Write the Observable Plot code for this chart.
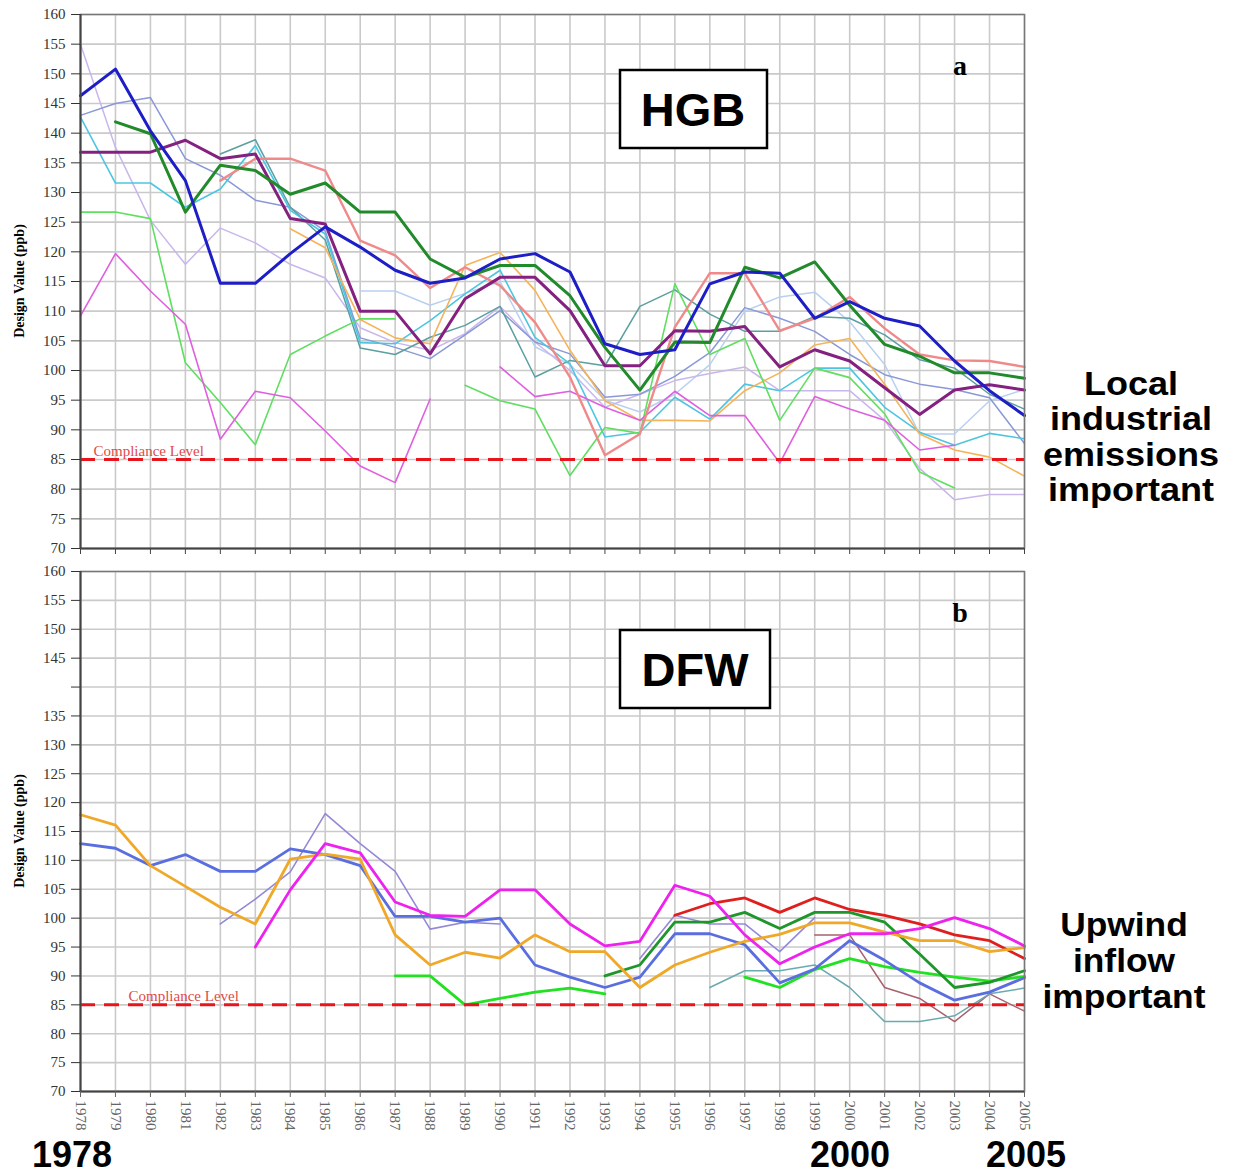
<!DOCTYPE html>
<html><head><meta charset="utf-8">
<script src="https://cdn.jsdelivr.net/npm/d3@7"></script>
<script src="https://cdn.jsdelivr.net/npm/@observablehq/plot@0.6"></script>
<style>
html,body{margin:0;padding:0;background:#fff;}
#wrap{position:relative;width:1235px;height:1176px;overflow:hidden;background:#fff;}
#top,#bottom,#overlay{position:absolute;left:0;}
#top{top:0;} #bottom{top:560px;} #overlay{top:0;pointer-events:none;}
</style></head><body>
<div id="wrap"><div id="top"></div><div id="bottom"></div><svg id="overlay" width="1235" height="1176"></svg></div>
<script>
// ---------- data ----------
const years = [1978,1979,1980,1981,1982,1983,1984,1985,1986,1987,1988,1989,1990,1991,1992,1993,1994,1995,1996,1997,1998,1999,2000,2001,2002,2003,2004,2005];
const yTicks = [70,75,80,85,90,95,100,105,110,115,120,125,130,135,140,145,150,155,160];
const complianceLevel = 85;
const complianceLabel = "Compliance Level";

// HGB (panel a)
const hgbLightBlue  = [null,null,null,null,null,null,null,null,113.4,113.4,111,113,115,104,101,95,93,96,101,110,112.4,113.2,108.2,101,89.3,89.3,94.9,96.8];
const hgbLavender   = [155,137.6,125.3,117.9,124,121.5,117.9,115.6,107.2,104.7,103.4,106.2,110.8,104.8,100,93.8,96,98.3,99.5,100.6,96.6,96.6,96.6,91.6,83.5,78.2,79.1,79.1];
const hgbSlate      = [143,145,146,135.7,132.9,128.7,127.5,123.5,105.5,103.9,102,106,110.1,104.8,102.8,95.5,96,99,103,110.6,108.8,106.6,102.7,99.3,97.7,96.8,95.4,87.7];
const hgbTeal       = [null,null,null,null,136.5,138.9,127.5,122,103.8,102.7,105.6,107.6,110.8,98.9,101.7,100.8,110.8,113.6,109.5,106.6,106.6,109.1,108.8,106,101.8,100.4,96,93.5];
const hgbCyan       = [142.7,131.6,131.6,127.5,130.6,137.9,127,123,104.7,104.5,108.4,112.9,116.9,105.6,101.1,88.8,89.6,95.5,91.8,97.7,96.6,100.4,100.4,93.8,89.6,87.4,89.4,88.5];
const hgbOrange     = [null,null,null,null,null,null,123.9,120.7,108.6,105.5,104.5,117.7,119.9,113.5,103.4,94.9,91.6,91.6,91.5,96.6,99.6,104.3,105.4,97.7,89.3,86.6,85.4,82.2];
const hgbLightGreen = [126.7,126.7,125.6,101.3,94.6,87.5,102.7,105.8,108.7,108.7,null,97.5,94.9,93.5,82.3,90.4,89.4,114.6,102.7,105.4,91.6,100.4,98.8,92.7,82.9,80.2,null,null];
const hgbOrchid     = [109.2,119.7,113.4,107.8,88.4,96.5,95.4,89.8,83.9,81.1,95.2,null,100.6,95.6,96.5,93.8,91.6,96.5,92.4,92.4,84.4,95.6,93.5,91.6,86.6,87.4,null,null];
const hgbSalmon     = [null,null,null,null,132,135.7,135.7,133.7,121.9,119.4,113.9,117.4,114.3,108.1,98.9,85.7,89.3,107.3,116.4,116.4,106.7,108.8,112.4,107.1,102.7,101.7,101.6,100.6];
const hgbPurple     = [136.8,136.8,136.8,138.8,135.7,136.5,125.6,124.7,110,110,102.8,112.1,115.7,115.7,110.1,100.8,100.8,106.7,106.6,107.4,100.6,103.5,101.6,97.1,92.6,96.7,97.6,96.7];
const hgbGreen      = [null,141.9,139.9,126.7,134.6,133.7,129.7,131.6,126.7,126.7,118.8,115.7,117.7,117.7,112.6,103.9,96.7,104.8,104.7,117.4,115.6,118.3,111,104.4,102.4,99.6,99.6,98.7];
const hgbBlue       = [146.3,150.8,140.4,132,114.7,114.7,119.7,124.2,120.8,116.9,114.7,115.6,118.8,119.7,116.6,104.5,102.7,103.5,114.6,116.6,116.4,108.8,111.6,108.8,107.5,101.6,96.6,92.4];

// DFW (panel b)
const dfwBrown       = [null,null,null,null,null,null,null,null,null,null,null,null,null,null,null,null,null,null,null,null,null,97.1,97.1,88,86.1,82.1,86.9,83.9];
const dfwTeal        = [null,null,null,null,null,null,null,null,null,null,null,null,null,null,null,null,null,null,88,90.9,90.9,91.9,88,82.1,82.1,83.1,86.9,87.9];
const dfwLavender    = [null,null,null,null,99,103.3,108,118.1,112.9,108.1,98.1,99.3,99,null,null,null,93,100.5,99,99,94.2,100.1,null,null,null,null,null,null];
const dfwBrightGreen = [null,null,null,null,null,null,null,null,null,90,90,85,86.1,87.2,87.9,86.9,null,null,null,89.8,88,91.1,93,91.6,90.6,89.8,89.1,89.9];
const dfwRed         = [null,null,null,null,null,null,null,null,null,null,null,null,null,null,null,null,null,100.5,102.5,103.5,101,103.5,101.5,100.5,99,97.1,96.1,93];
const dfwDarkGreen   = [null,null,null,null,null,null,null,null,null,null,null,null,null,null,null,90,91.9,99.3,99.3,101,98.2,101,101,99.3,93.8,88,88.9,90.9];
const dfwBlue        = [112.9,112.1,109.1,111,108.1,108.1,112,111,109.1,100.3,100.3,99.3,100,91.9,89.8,88,89.8,97.3,97.3,95.4,88.8,91.2,96.1,92.7,88.8,85.8,87.2,89.7];
const dfwOrange      = [117.9,116.1,109.1,105.5,101.9,99,110.2,111.1,110.2,97.1,91.9,94.1,93.1,97.1,94.2,94.2,88,91.9,94.1,96,97.2,99.2,99.2,97.6,96.1,96.1,94.2,94.9];
const dfwMagenta     = [null,null,null,null,null,95,104.9,112.9,111.3,102.8,100.5,100.3,104.9,104.9,99,95.2,96,105.7,103.8,97.1,92.1,95,97.3,97.3,98.2,100.1,98.2,95.2];

const hgbSeries = [
  {name:"lightblue", values:hgbLightBlue, color:"#b9d0f0", width:1.5},
  {name:"lavender", values:hgbLavender, color:"#c9b6ec", width:1.5},
  {name:"slate", values:hgbSlate, color:"#8a98d8", width:1.5},
  {name:"teal", values:hgbTeal, color:"#5b9fa0", width:1.5},
  {name:"cyan", values:hgbCyan, color:"#4cc6e0", width:1.6},
  {name:"orange", values:hgbOrange, color:"#f5b35a", width:1.6},
  {name:"lightgreen", values:hgbLightGreen, color:"#5fdf5f", width:1.6},
  {name:"orchid", values:hgbOrchid, color:"#e05fe0", width:1.6},
  {name:"salmon", values:hgbSalmon, color:"#f08a8a", width:2.4},
  {name:"purple", values:hgbPurple, color:"#84207f", width:3},
  {name:"green", values:hgbGreen, color:"#218a2a", width:3},
  {name:"blue", values:hgbBlue, color:"#1e1ec6", width:3}
];
const dfwSeries = [
  {name:"brown", values:dfwBrown, color:"#a8606c", width:1.5},
  {name:"teal", values:dfwTeal, color:"#6aaab0", width:1.5},
  {name:"lavender", values:dfwLavender, color:"#9488d8", width:1.6},
  {name:"brightgreen", values:dfwBrightGreen, color:"#22e022", width:2.8},
  {name:"red", values:dfwRed, color:"#e01e1e", width:2.8},
  {name:"darkgreen", values:dfwDarkGreen, color:"#1e962a", width:2.8},
  {name:"blue", values:dfwBlue, color:"#5a6ee0", width:2.8},
  {name:"orange", values:dfwOrange, color:"#f0a828", width:2.8},
  {name:"magenta", values:dfwMagenta, color:"#ee22ee", width:2.8}
];

function makePanel(series, opts) {
  const lineMarks = series.map(s => {
    const rows = s.values.map((v, i) => ({year: years[i], value: v}));
    return Plot.line(rows, {x: "year", y: "value", stroke: s.color, strokeWidth: s.width, strokeLinejoin: "round"});
  });
  return Plot.plot({
    width: 1235, height: opts.height,
    marginLeft: 80, marginRight: 211, marginTop: opts.marginTop, marginBottom: opts.marginBottom,
    x: {type: "linear", domain: [1978, 2005]},
    y: {type: "linear", domain: [70, 160]},
    style: {fontFamily: "'Liberation Serif', 'DejaVu Serif', serif", background: "transparent", overflow: "visible"},
    marks: [
      Plot.gridX(years, {stroke: "#cacaca", strokeOpacity: 1, strokeWidth: 1.6}),
      Plot.gridY(yTicks, {stroke: "#cacaca", strokeOpacity: 1, strokeWidth: 1.6}),
      ...lineMarks,
      Plot.ruleY([complianceLevel], {stroke: "#e8161c", strokeWidth: 3, strokeDasharray: "15,9"}),
      Plot.text([complianceLevel], {y: d => d, frameAnchor: "left", textAnchor: "start", lineAnchor: "bottom",
        dx: opts.complianceDx, dy: -4, text: () => complianceLabel, fill: "#e04a4a", fontSize: 15}),
      Plot.frame({stroke: "#777", strokeWidth: 1.5}),
      Plot.ruleX([1978], {stroke: "#444", strokeWidth: 2}),
      Plot.ruleY([70], {stroke: "#444", strokeWidth: 2}),
      Plot.axisY(yTicks, {tickSize: 9, tickPadding: 6, fontSize: 15, tickFormat: opts.yFormat, label: null, color: "#333"}),
      Plot.axisX(years, {tickSize: 6, tickPadding: 3, fontSize: 15, tickRotate: opts.xLabels ? 90 : 0,
        tickFormat: opts.xLabels ? (d => String(d)) : (() => ""), label: null, color: opts.xLabels ? "#666" : "#444"})
    ]
  });
}

document.getElementById("top").append(makePanel(hgbSeries, {
  height: 560, marginTop: 14, marginBottom: 12, complianceDx: 13, xLabels: false, yFormat: d => String(d)
}));
document.getElementById("bottom").append(makePanel(dfwSeries, {
  height: 580, marginTop: 11, marginBottom: 49, complianceDx: 48, xLabels: true, yFormat: d => d === 140 ? "" : String(d)
}));

// ---------- annotations ----------
const ov = d3.select("#overlay");
const sans = "'Liberation Sans', Arial, sans-serif";
const serif = "'Liberation Serif', 'DejaVu Serif', serif";
function txt(x, y, s, size, family, weight, anchor, rotate) {
  const t = ov.append("text").attr("x", x).attr("y", y).text(s)
    .attr("font-size", size).attr("font-family", family).attr("font-weight", weight)
    .attr("text-anchor", anchor || "middle").attr("fill", "#000");
  if (rotate) t.attr("transform", `rotate(${rotate},${x},${y})`);
  return t;
}
// panel boxes
ov.append("rect").attr("x", 620).attr("y", 70).attr("width", 147).attr("height", 78).attr("fill", "#fff").attr("stroke", "#000").attr("stroke-width", 2.5);
txt(693, 126, "HGB", 47, sans, "bold");
ov.append("rect").attr("x", 620).attr("y", 630).attr("width", 150).attr("height", 78).attr("fill", "#fff").attr("stroke", "#000").attr("stroke-width", 2.5);
txt(695, 686, "DFW", 47, sans, "bold");
txt(960, 75, "a", 28, serif, "bold");
txt(960, 622, "b", 28, serif, "bold");
// y labels
txt(24, 281, "Design Value (ppb)", 14, serif, "bold", "middle", -90);
txt(24, 831, "Design Value (ppb)", 14, serif, "bold", "middle", -90);
// side notes
["Local", "industrial", "emissions", "important"].forEach((s, i) => txt(1131, 395 + i * 35.5, s, 34, sans, "bold").attr("transform", `translate(1131,0) scale(1.06,1) translate(-1131,0)`));
["Upwind", "inflow", "important"].forEach((s, i) => txt(1124, 936 + i * 36, s, 34, sans, "bold").attr("transform", `translate(1124,0) scale(1.04,1) translate(-1124,0)`));
// big year labels
txt(72, 1167, "1978", 36, sans, "bold");
txt(850, 1167, "2000", 36, sans, "bold");
txt(1026, 1167, "2005", 36, sans, "bold");
</script></body></html>
